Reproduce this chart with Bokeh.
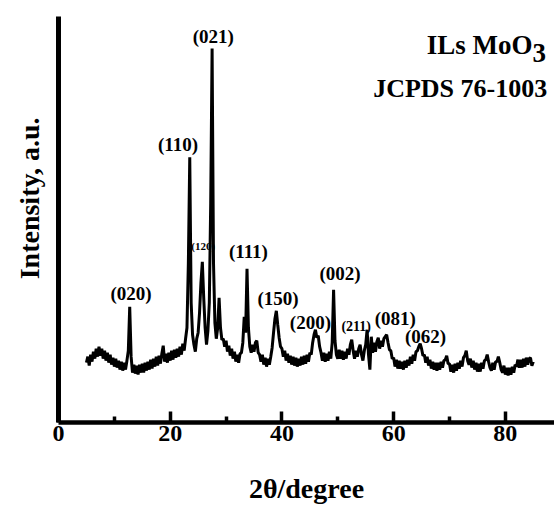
import numpy as np
from bokeh.plotting import figure
from bokeh.models import Label, FixedTicker, Range1d, ColumnDataSource, Title
from bokeh.embed import file_html
from bokeh.resources import INLINE

# ---- data ----
two_theta = np.round(np.arange(5.0, 85.001, 0.25), 2)
intensity = [
    60, 66, 57, 68, 61, 71, 64, 74, 66, 76, 67, 74, 64, 72, 62, 70, 60, 68, 58, 65,
    56, 64, 55, 62, 53, 61, 52, 60, 53, 62, 72, 116, 66, 50, 58, 49, 57, 48, 58, 50,
    59, 50, 60, 52, 61, 53, 63, 54, 64, 56, 66, 57, 67, 59, 69, 77, 61, 69, 60, 70,
    62, 72, 63, 73, 65, 74, 66, 76, 68, 79, 72, 84, 95, 160, 266, 120, 88, 78, 71, 84,
    90, 110, 140, 161, 125, 95, 78, 92, 120, 220, 375, 160, 100, 84, 95, 125, 95, 83, 84, 76,
    82, 71, 77, 67, 74, 64, 71, 61, 68, 60, 69, 70, 80, 106, 90, 154, 95, 76, 70, 78,
    71, 80, 82, 70, 68, 61, 68, 58, 65, 56, 64, 58, 66, 75, 90, 104, 112, 98, 85, 76,
    74, 66, 72, 62, 69, 60, 67, 58, 66, 57, 65, 56, 64, 57, 66, 58, 67, 59, 68, 61,
    70, 68, 80, 88, 93, 85, 87, 76, 70, 62, 70, 61, 69, 62, 71, 64, 80, 133, 82, 68,
    64, 73, 64, 72, 63, 71, 64, 74, 68, 78, 83, 72, 64, 72, 66, 74, 78, 68, 62, 72,
    78, 93, 68, 53, 86, 70, 80, 71, 81, 85, 74, 82, 76, 84, 86, 88, 80, 73, 72, 64,
    65, 56, 63, 54, 62, 54, 61, 53, 62, 55, 63, 57, 66, 59, 68, 62, 71, 72, 76, 79,
    74, 67, 68, 60, 66, 57, 63, 54, 61, 53, 60, 52, 60, 53, 61, 55, 62, 63, 67, 59,
    59, 51, 58, 50, 59, 52, 60, 54, 62, 56, 65, 67, 72, 62, 58, 64, 55, 62, 53, 60,
    51, 59, 51, 60, 54, 62, 63, 68, 61, 55, 52, 60, 53, 61, 61, 66, 60, 53, 50, 57,
    48, 55, 47, 55, 48, 56, 50, 58, 56, 63, 55, 63, 55, 64, 56, 65, 58, 64, 65, 57,
    61,
]
x_ticks = [0, 20, 40, 60, 80]
x_minor_ticks = [10, 30, 50, 70]
hkl_labels = ["(020)", "(110)", "(021)", "(120)", "(111)", "(150)",
              "(200)", "(002)", "(211)", "(081)", "(062)"]

FONT = "Liberation Serif"

p = figure(width=554, height=506,
           x_range=Range1d(0, 88.8), y_range=Range1d(0, 407),
           output_backend="svg", toolbar_location=None,
           min_border_left=58, min_border_right=0,
           min_border_top=16, min_border_bottom=83)
p.outline_line_color = None
p.grid.visible = False
p.background_fill_color = "white"
p.border_fill_color = "white"

src = ColumnDataSource(dict(x=two_theta, y=intensity))
p.line("x", "y", source=src, line_color="black", line_width=3)

ax = p.xaxis[0]
ax.ticker = FixedTicker(ticks=x_ticks, minor_ticks=x_minor_ticks)
ax.axis_line_width = 4.5
ax.axis_line_color = "black"
ax.major_tick_in = 11
ax.major_tick_out = 0
ax.major_tick_line_width = 3.5
ax.minor_tick_in = 6
ax.minor_tick_out = 0
ax.minor_tick_line_width = 3.5
ax.major_label_text_font = FONT
ax.major_label_text_font_style = "bold"
ax.major_label_text_font_size = "24px"
ax.major_label_text_color = "black"
ax.major_label_standoff = 3
ax.axis_label = "2θ/degree"
ax.axis_label_text_font = FONT
ax.axis_label_text_font_style = "bold"
ax.axis_label_text_font_size = "28px"
ax.axis_label_text_color = "black"
ax.axis_label_standoff = 29

ay = p.yaxis[0]
ay.ticker = FixedTicker(ticks=[])
ay.axis_line_width = 5
ay.axis_line_color = "black"
ay.major_tick_line_color = None
ay.minor_tick_line_color = None

ytitle = Title(text="Intensity, a.u.", align="right", offset=101,
               vertical_align="top",
               text_font=FONT, text_font_style="bold", text_font_size="28px",
               text_color="black", standoff=24)
p.add_layout(ytitle, "left")

def lab(x, y, text, size, **kw):
    p.add_layout(Label(x=x, y=y, text=text, text_font=FONT,
                       text_font_style=kw.pop("style", "bold"),
                       text_font_size=size, text_color="black", **kw))

# sample / reference card
lab(84.86, 378, "ILs MoO", "27px", text_align="right", text_baseline="alphabetic")
lab(84.86, 370, "3", "27px", text_align="left", text_baseline="alphabetic")
lab(87.5, 335, "JCPDS 76-1003", "26px", text_align="right", text_baseline="alphabetic")

# reflections
pos = [(13.0, 129), (21.4, 279), (27.7, 387), (25.9, 177), (34.0, 171), (39.3, 124),
       (45.1, 100), (50.4, 149), (53.3, 96), (60.3, 104), (65.7, 86)]
sizes = ["19px", "19px", "19px", "11px", "19px", "19px",
         "19px", "19px", "14px", "19px", "19px"]
for t, (x, y), s in zip(hkl_labels, pos, sizes):
    lab(x, y, t, s, text_align="center", text_baseline="middle")

open("out.html", "w").write(file_html(p, INLINE))
